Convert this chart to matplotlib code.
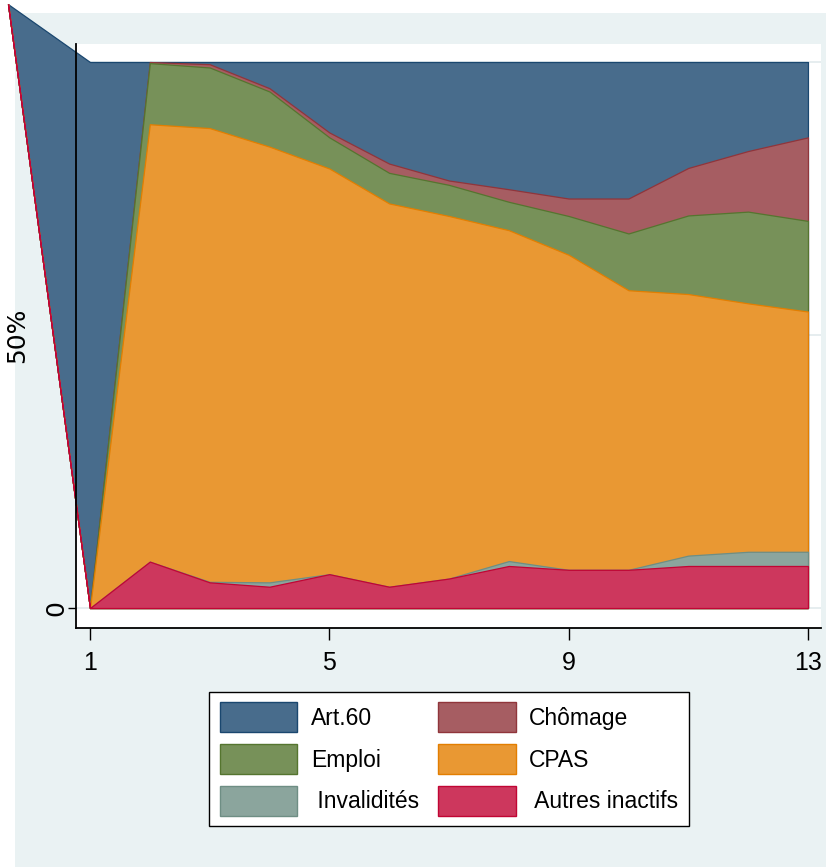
import numpy as np
import matplotlib
matplotlib.use("Agg")
import matplotlib.pyplot as plt
from matplotlib.patches import Rectangle, Patch

# ---------------- data (shares in %, per period) ----------------
periods = [1, 2, 3, 4, 5, 6, 7, 8, 9, 10, 11, 12, 13]
autres_inactifs = [0, 8.5, 4.7, 3.9, 6.2, 3.9, 5.4, 7.7, 7.0, 7.0, 7.7, 7.7, 7.7]
invalidites     = [0, 0.0, 0.1, 0.8, 0.0, 0.0, 0.0, 0.9, 0.0, 0.0, 1.9, 2.6, 2.6]
cpas            = [0, 80.1, 83.1, 79.8, 74.3, 70.2, 66.4, 60.6, 57.7, 51.2, 47.9, 45.5, 44.0]
emploi          = [0, 11.2, 11.1, 10.1, 5.7, 5.6, 5.7, 5.2, 7.1, 10.4, 14.4, 16.8, 16.6]
chomage         = [0, 0.2, 0.6, 0.6, 0.9, 1.7, 0.8, 2.3, 3.2, 6.4, 8.7, 11.1, 15.3]
art60           = [100, 0.0, 0.4, 4.8, 12.9, 18.6, 21.7, 23.3, 25.0, 25.0, 19.4, 16.3, 13.8]

# stray leading vertex of the original rendering (outside the plot region)
lead_x = -0.37
lead_y = 110.6

labels_bottom_up = ["Autres inactifs", "Invalidités", "CPAS", "Emploi", "Chômage", "Art.60"]
series_bottom_up = [autres_inactifs, invalidites, cpas, emploi, chomage, art60]
line_colors = ["#c10534", "#6e8e84", "#e37e00", "#55752f", "#90353b", "#1a476f"]
fill_colors = ["#cd375d", "#8ba59d", "#e99833", "#779159", "#a65d62", "#486c8c"]

legend_order = ["Art.60", "Emploi", "Invalidités", "Chômage", "CPAS", "Autres inactifs"]
legend_text = {"Art.60": "Art.60", "Emploi": "Emploi", "Invalidités": " Invalidités",
               "Chômage": "Chômage", "CPAS": "CPAS", "Autres inactifs": " Autres inactifs"}

ytick_vals = [0, 50, 100]
ytick_labels = ["0", "50%", ""]
xtick_vals = [1, 5, 9, 13]

# ---------------- figure ----------------
W, H = 826, 867
BG = "#eaf2f3"
fig = plt.figure(figsize=(W / 100, H / 100), dpi=100)
fig.patch.set_facecolor("white")
fig.patches.append(Rectangle((15 / W, 0), 1 - 15 / W, 1 - 13 / H, transform=fig.transFigure,
                             facecolor=BG, edgecolor="none", zorder=-10))

ax = fig.add_axes([76 / W, 1 - 628 / H, (821 - 76) / W, (628 - 44) / H])
ax.set_facecolor("white")

cum = np.cumsum(np.array(series_bottom_up, dtype=float), axis=0)
x_ext = np.array([lead_x] + periods, dtype=float)
base_ext = np.array([lead_y] + [0.0] * len(periods))

# Stata-style: cumulative areas drawn from the top series down
n = len(series_bottom_up)
for k, i in enumerate(range(n - 1, -1, -1)):
    top_ext = np.concatenate([[lead_y], cum[i]])
    ax.fill_between(x_ext, base_ext, top_ext, facecolor=fill_colors[i],
                    edgecolor=line_colors[i], linewidth=0.9, clip_on=False, zorder=1 + k)

ax.set_xlim(0.766, 13.218)
ax.set_ylim(-3.66, 103.30)

ax.yaxis.grid(True, color="#e2eaec", linewidth=1.2, zorder=0)
ax.set_axisbelow(True)

for s in ["top", "right"]:
    ax.spines[s].set_visible(False)
for s in ["left", "bottom"]:
    ax.spines[s].set_linewidth(1.3)
    ax.spines[s].set_color("black")
    ax.spines[s].set_zorder(20)

ax.set_xticks(xtick_vals)
ax.set_xticklabels([str(v) for v in xtick_vals], fontfamily=["Liberation Sans"], fontsize=18)
ax.tick_params(axis="x", length=8.5, width=1.0, pad=8.0, color="black")

ax.set_yticks(ytick_vals)
ax.set_yticklabels(ytick_labels, fontfamily=["DejaVu Sans"], fontsize=18, rotation=90, va="center")
ax.tick_params(axis="y", length=5.8, width=1.0, color="black")
yt = ax.yaxis.get_major_ticks()
yt[0].set_pad(0)
yt[1].set_pad(28)
for t in ax.get_xticklines() + ax.get_yticklines():
    t.set_zorder(20)

# ---------------- legend ----------------
idx = {lab: i for i, lab in enumerate(labels_bottom_up)}
handles = [Patch(facecolor=fill_colors[idx[l]], edgecolor=line_colors[idx[l]], linewidth=1.0)
           for l in legend_order]
leg = fig.legend(handles, [legend_text[l] for l in legend_order], ncol=2,
                 loc="upper center", bbox_to_anchor=(449 / W, 1 - 692 / H),
                 bbox_transform=fig.transFigure, frameon=True, fancybox=False,
                 edgecolor="black", framealpha=1, borderaxespad=0,
                 handlelength=3.4, handleheight=1.62, labelspacing=0.53,
                 handletextpad=0.6, columnspacing=0.8, borderpad=0.45,
                 prop={"family": ["Liberation Sans"], "size": 16.5})
leg.get_frame().set_linewidth(1.0)

fig.savefig("out.png", dpi=100, facecolor=fig.get_facecolor())
